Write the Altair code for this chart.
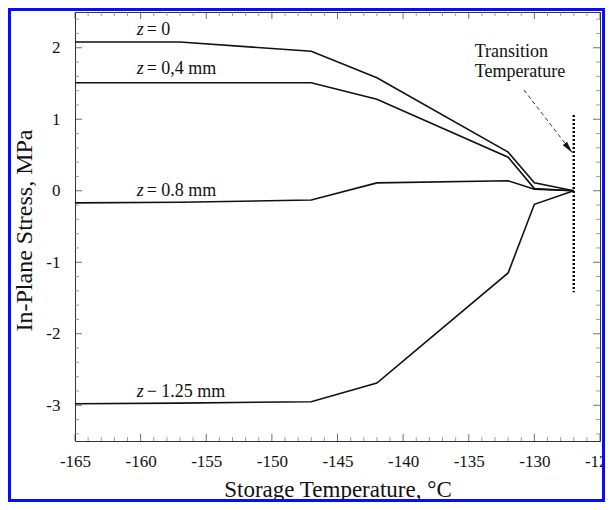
import altair as alt
import pandas as pd

# ---- data ----
temps = [-165, -157, -147, -142, -132, -130, -127]
s_z0 = [2.08, 2.08, 1.95, 1.58, 0.54, 0.11, 0.0]
s_z04 = [1.51, 1.51, 1.51, 1.28, 0.47, 0.03, 0.0]
s_z08 = [-0.17, -0.16, -0.13, 0.11, 0.14, 0.02, 0.0]
s_z125 = [-2.98, -2.97, -2.95, -2.69, -1.15, -0.19, 0.0]
series_names = ["z = 0", "z = 0.4 mm", "z = 0.8 mm", "z = 1.25 mm"]

transition_temp = -127
transition_span = [1.06, -1.42]
arrow_x = [-130.8, -127.1]
arrow_y = [1.41, 0.53]

x_ticks = list(range(-165, -124, 5))
y_ticks = [-3, -2, -1, 0, 1, 2]
x_minor = [v for v in range(-165, -124) if v % 5 != 0]
y_minor = [round(v / 10, 1) for v in range(-34, 25, 2) if v % 10 != 0]

X_DOM = [-165, -125]
Y_DOM = [-3.5, 2.5]

rows = []
for name, vals in zip(series_names, [s_z0, s_z04, s_z08, s_z125]):
    for t, v in zip(temps, vals):
        rows.append({"series": name, "temp": t, "stress": v})
df = pd.DataFrame(rows)

xs = alt.Scale(domain=X_DOM, nice=False, zero=False)
ys = alt.Scale(domain=Y_DOM, nice=False, zero=False)
INK = "#111111"
FRAME = "#333333"

AX_X = alt.Axis(
    values=x_ticks, labelExpr="'' + datum.value", title="Storage Temperature, °C",
    ticks=False, tickSize=0, domain=False, grid=False, labelPadding=12,
    labelFontSize=17, labelFlush=False, labelOverlap=False, labelColor=INK,
    titleFontSize=23, titleFontWeight="normal", titleColor=INK,
    titleY=55, titleBaseline="alphabetic")
AX_Y = alt.Axis(
    values=y_ticks, labelExpr="'' + datum.value", title="In-Plane Stress, MPa",
    ticks=False, tickSize=0, domain=False, grid=False, labelPadding=15,
    labelFontSize=17, labelOverlap=False, labelColor=INK,
    titleFontSize=24, titleFontWeight="normal", titleColor=INK,
    titleAngle=270, titleX=-44, titleY=218, titleAlign="center",
    titleBaseline="alphabetic")

def X(field):
    return alt.X(field, scale=xs, axis=AX_X)

def Y(field):
    return alt.Y(field, scale=ys, axis=AX_Y)

def XD(v):
    return alt.XDatum(v, scale=xs, axis=AX_X)

def YD(v):
    return alt.YDatum(v, scale=ys, axis=AX_Y)

lines = alt.Chart(df).mark_line(color=INK, strokeWidth=1.6).encode(
    x=X("temp:Q"), y=Y("stress:Q"), detail="series:N")

def xticks(vals, at, size, off, color):
    return alt.Chart(pd.DataFrame({"temp": vals})).mark_tick(
        orient="vertical", size=size, thickness=1, color=color, yOffset=off
    ).encode(x=X("temp:Q"), y=YD(at))

def yticks(vals, at, size, off, color):
    return alt.Chart(pd.DataFrame({"stress": vals})).mark_tick(
        orient="horizontal", size=size, thickness=1, color=color, xOffset=off
    ).encode(y=Y("stress:Q"), x=XD(at))

MINOR = "#777777"
ticks = [
    xticks(x_ticks, Y_DOM[0], 7, -3.5, FRAME), xticks(x_ticks, Y_DOM[1], 7, 3.5, FRAME),
    xticks(x_minor, Y_DOM[0], 4, -2, MINOR), xticks(x_minor, Y_DOM[1], 4, 2, MINOR),
    yticks(y_ticks, X_DOM[0], 7, 3.5, FRAME), yticks(y_ticks, X_DOM[1], 7, -3.5, FRAME),
    yticks(y_minor, X_DOM[0], 4, 2, MINOR), yticks(y_minor, X_DOM[1], 4, -2, MINOR),
]

one = pd.DataFrame({"_": [0]})

def text_at(x, y, txt, size=18, align="left", dx=0, style="normal"):
    return alt.Chart(one).mark_text(
        text=txt, fontSize=size, align=align, baseline="alphabetic", dx=dx,
        fontStyle=style, color=INK
    ).encode(x=XD(x), y=YD(y))

label_x = -160.3
label_rest = ["= 0", "= 0,4 mm", "= 0.8 mm", "\u2212 1.25 mm"]
label_y = [2.185, 1.63, -0.07, -2.88]
labels = []
for rest, ly in zip(label_rest, label_y):
    labels.append(text_at(label_x, ly, "z", style="italic"))
    labels.append(text_at(label_x, ly, rest, dx=10))

labels.append(text_at(-134.55, 1.87, "Transition"))
labels.append(text_at(-134.55, 1.59, "Temperature"))

trans = alt.Chart(one).mark_rule(color=INK, strokeWidth=2.5, strokeDash=[2, 2]).encode(
    x=XD(transition_temp),
    y=YD(transition_span[0]),
    y2=alt.Y2Datum(transition_span[1]),
)

arrow = alt.Chart(pd.DataFrame({"temp": arrow_x, "stress": arrow_y})).mark_line(
    color=FRAME, strokeWidth=1, strokeDash=[4, 3]
).encode(x=X("temp:Q"), y=Y("stress:Q"))

head = alt.Chart(pd.DataFrame({"temp": arrow_x[1:], "stress": arrow_y[1:]})).mark_point(
    shape="M0,0 L0.45,2 L-0.45,2 Z", size=144, angle=141, filled=True,
    color=INK, opacity=1, strokeWidth=0
).encode(x=X("temp:Q"), y=Y("stress:Q"))

W, H = 525, 429
PAD = {"left": 67, "top": 4, "right": 5, "bottom": 61}
SW = PAD["left"] + W + PAD["right"]
SH = PAD["top"] + H + PAD["bottom"]

border = alt.Chart(one).mark_rect(filled=False, stroke="#0a0aff", strokeWidth=3).encode(
    x=alt.value(-PAD["left"] + 1.5), x2=alt.value(SW - PAD["left"] - 1.5),
    y=alt.value(-PAD["top"] + 1.5), y2=alt.value(SH - PAD["top"] - 1.5)
)

chart = alt.layer(lines, *ticks, trans, arrow, head, *labels, border).properties(
    width=W, height=H,
    autosize=alt.AutoSizeParams(type="none"),
    padding=PAD,
).configure(font="Liberation Serif").configure_view(stroke=FRAME, strokeWidth=1)

chart.save("out.html", embed_options={"renderer": "svg", "actions": False})
